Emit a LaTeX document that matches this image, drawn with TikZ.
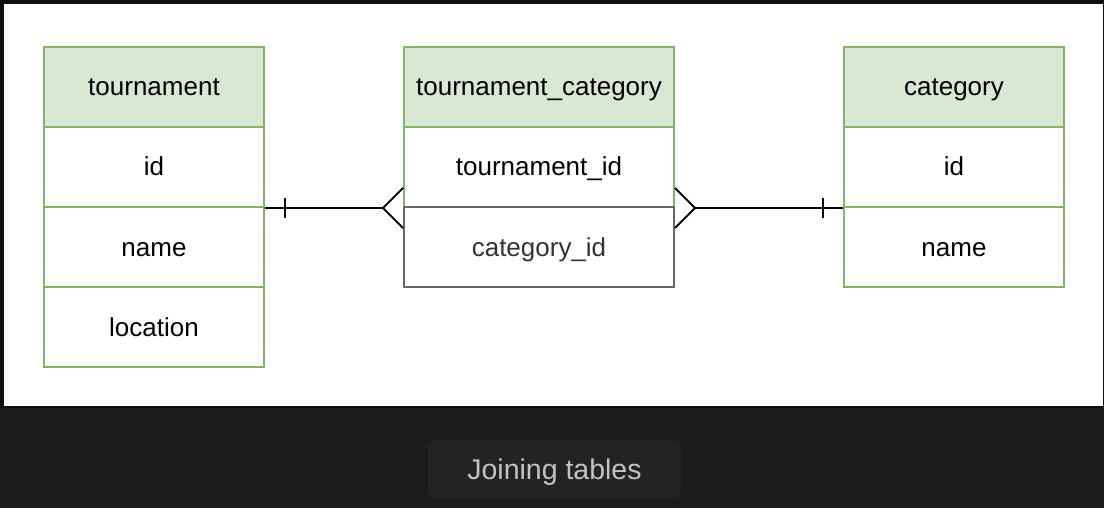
\documentclass[tikz,border=0pt]{standalone}
\usepackage{fontspec}
\setmainfont{Liberation Sans}
\usetikzlibrary{calc}
\definecolor{headgreen}{HTML}{D9E7D5}
\definecolor{edgegreen}{HTML}{82B366}
\definecolor{edgegray}{HTML}{666666}
\definecolor{textgray}{HTML}{333333}
\definecolor{darkbg}{HTML}{1C1C1E}
\definecolor{framebg}{HTML}{0E0E0E}
\definecolor{capbg}{HTML}{232326}
\definecolor{captext}{HTML}{C3C3C7}
\tikzset{
  cell/.style={draw=edgegreen, fill=white, line width=2pt, inner sep=0pt,
    minimum width=220pt, minimum height=80pt, text height=18pt, text depth=0pt,
    font=\fontsize{26}{30}\selectfont},
  headcell/.style={cell, fill=headgreen},
  graycell/.style={cell, draw=edgegray, text=textgray},
  relline/.style={line width=2pt, black},
}

\begin{document}
\begin{tikzpicture}[x=1pt, y=-1pt]
			%%%%% START %%%%%
			
			\fill[darkbg] (0, 0) rectangle (1104, 508);
			\fill[framebg] (0, 0) rectangle (1104, 408);
			\fill[white] (4, 4) rectangle (1103, 406);
			
			\node[headcell] (tHead) at (154, 87) {tournament};
			\node[cell] (tId) at (154, 167) {id};
			\node[cell] (tName) at (154, 247) {name};
			\node[cell] (tLoc) at (154, 327) {location};
			
			\node[headcell, minimum width=270pt] (tcHead) at (539, 87) {tournament\_category};
			\node[cell, minimum width=270pt] (tcTour) at (539, 167) {tournament\_id};
			\node[graycell, minimum width=270pt] (tcCat) at (539, 247) {category\_id};
			
			\node[headcell] (cHead) at (954, 87) {category};
			\node[cell] (cId) at (954, 167) {id};
			\node[cell] (cName) at (954, 247) {name};
			
			\draw[relline] (tId.south east) -- ($(tcTour.south west)+(-20, 0)$);
			\draw[relline] ($(tId.south east)+(20, -10)$) -- ($(tId.south east)+(20, 10)$);
			\draw[relline] ($(tcTour.south west)+(0, -20)$) -- ($(tcTour.south west)+(-20, 0)$) -- ($(tcTour.south west)+(0, 20)$);
			
			\draw[relline] ($(tcTour.south east)+(20, 0)$) -- (cId.south west);
			\draw[relline] ($(cId.south west)+(-20, -10)$) -- ($(cId.south west)+(-20, 10)$);
			\draw[relline] ($(tcTour.south east)+(0, -20)$) -- ($(tcTour.south east)+(20, 0)$) -- ($(tcTour.south east)+(0, 20)$);
			
			\node[fill=capbg, rounded corners=8pt, minimum width=253pt, minimum height=58pt,
			  text height=20pt, text depth=0pt, text=captext,
			  font=\fontsize{28.5}{32}\selectfont] (caption) at (554.5, 469) {Joining tables};
			
			%%%%% END %%%%%
		\end{tikzpicture}
\end{document}
